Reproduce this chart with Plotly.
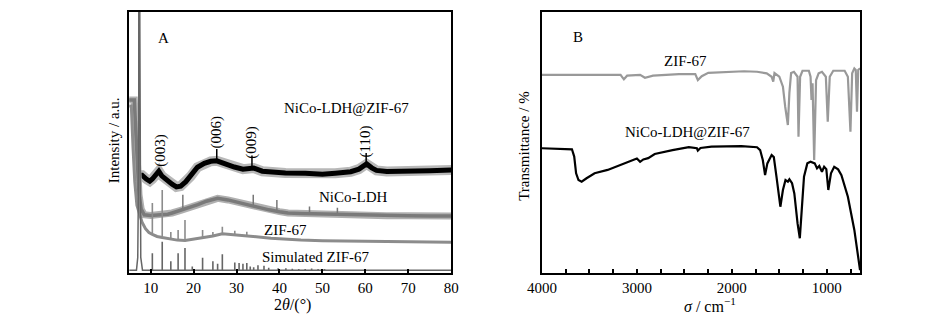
import plotly.graph_objects as go

# ================= Panel A : XRD =================
xrd_ticks = [10, 20, 30, 40, 50, 60, 70, 80]

# NiCo-LDH@ZIF-67 (noisy band centre)
hyb_x = [7.6, 8.0, 9.0, 9.8, 10.4, 11.2, 11.9, 12.6, 13.5, 15.0, 16.0, 17.0, 18.2, 19.3,
         20.9, 22.5, 24.0, 25.4, 27.7, 29.5, 31.5, 34.0, 36.0, 41.4, 46.0, 50.0, 53.0,
         56.6, 58.5, 60.3, 61.5, 62.6, 65.0, 69.5, 75.0, 80.0]
hyb_y = [37.5, 37.5, 36.0, 35.2, 36.0, 37.5, 39.0, 37.2, 35.8, 34.0, 33.0, 33.3, 35.0, 37.0,
         40.5, 42.0, 42.8, 43.0, 41.6, 40.6, 39.8, 40.2, 39.0, 38.3, 38.2, 37.8, 38.2,
         38.8, 39.8, 41.8, 40.3, 39.3, 38.9, 38.9, 39.2, 39.5]
hyb_spike_x = [7.3, 25.4, 33.6, 60.2]
hyb_spike_base = [37.0, 43.0, 40.0, 41.8]
hyb_spike_top = [150.0, 47.5, 45.0, 46.0]

# NiCo-LDH
ldh_x = [5.0, 6.2, 6.5, 6.9, 7.3, 7.8, 8.5, 10.0, 12.0, 14.0, 15.0, 17.0, 19.3, 21.0, 23.0,
         25.6, 28.0, 30.0, 32.0, 35.0, 37.6, 40.0, 42.0, 45.0, 50.0, 53.0, 56.0, 60.0, 65.0,
         70.0, 75.0, 80.0]
ldh_y = [66.3, 66.3, 56.0, 40.0, 30.0, 24.5, 22.3, 22.0, 22.3, 22.5, 23.0, 24.0, 25.4, 26.2, 27.5,
         28.6, 28.0, 27.2, 26.5, 25.0, 24.2, 23.5, 23.0, 22.8, 22.6, 22.4, 22.2, 22.0, 21.9,
         21.9, 21.8, 21.8]
ldh_spike_x = [17.5, 33.9, 39.4, 47.0, 53.5]
ldh_spike_base = [24.2, 26.0, 23.6, 22.7, 22.4]
ldh_spike_top = [30.0, 30.0, 28.0, 25.5, 25.0]

# ZIF-67 (experimental)
zif_x = [5.0, 5.5, 5.9, 6.3, 6.8, 7.2, 7.5, 8.0, 8.8, 9.6, 10.4, 11.5, 12.7, 14.5, 16.2,
         18.0, 20.0, 22.0, 24.5, 26.7, 28.5, 30.0, 32.0, 34.6, 38.0, 42.0, 45.0, 50.0,
         60.0, 70.0, 80.0]
zif_y = [64.0, 64.0, 48.0, 35.0, 26.0, 24.0, 22.0, 19.5, 17.0, 15.5, 14.8, 14.0, 13.6, 13.0, 12.6,
         12.5, 13.0, 13.3, 14.2, 15.0, 14.8, 14.5, 14.2, 13.9, 13.3, 12.8, 12.6, 12.4,
         12.1, 12.0, 11.8]
zif_peak_x = [7.35, 10.4, 12.7, 14.7, 16.4, 18.0, 22.1, 24.5, 26.7, 29.6, 32.4]
zif_peak_base = [23.0, 14.8, 13.6, 13.0, 12.6, 12.5, 13.3, 14.2, 15.0, 14.7, 14.2]
zif_peak_top = [150.0, 26.8, 31.8, 15.7, 16.5, 20.3, 16.5, 15.7, 17.7, 16.2, 15.8]

# Simulated ZIF-67 (stick pattern)
sim_base = 1.1
sim_peak_x = [10.4, 12.7, 14.7, 16.4, 18.0, 19.7, 22.1, 24.5, 25.6, 26.7, 29.6, 30.6, 31.5,
              32.4, 33.2, 34.0, 35.0, 36.4, 37.5, 39.7, 41.5, 43.0, 44.5, 46.0, 47.5, 49.0, 50.5]
sim_peak_top = [7.6, 12.0, 4.5, 7.6, 9.6, 2.5, 5.8, 4.5, 3.5, 7.2, 4.0, 3.8, 3.5,
                3.8, 2.5, 2.2, 3.0, 2.8, 2.0, 1.8, 1.8, 1.6, 1.5, 1.5, 1.7, 1.5, 1.5]
sim_main_x = [5.0, 6.7, 7.0, 7.2, 7.35, 7.5, 7.7, 8.1, 80.0]
sim_main_y = [1.1, 1.1, 6.0, 40.0, 150.0, 40.0, 6.0, 1.1, 1.1]

# ================= Panel B : FTIR =================
ir_major = [4000, 3000, 2000, 1000]

ir_zif_x = [4000, 3582, 3172, 3137, 3103, 2966, 2915, 2830, 2556, 2385, 2358, 2317, 2248, 1872,
            1735, 1633, 1581, 1564, 1551, 1500, 1462, 1438, 1410, 1394, 1376, 1346, 1308, 1298,
            1281, 1256, 1189, 1171, 1161, 1150, 1133, 1113, 1086, 1051, 1010, 990, 969, 932,
            812, 778, 751, 733, 710, 695, 682, 669, 650]
ir_zif_y = [75.9, 75.9, 75.9, 74.2, 75.6, 75.9, 74.8, 75.6, 76.2, 76.2, 73.9, 75.4, 76.7, 77.3,
            77.1, 76.5, 75.2, 73.3, 76.6, 75.2, 71.4, 63.7, 56.7, 69.0, 76.6, 77.1, 75.2, 52.2,
            75.2, 77.5, 77.5, 75.2, 66.3, 72.7, 43.3, 73.9, 76.5, 77.1, 75.2, 58.0, 75.2, 77.5,
            77.5, 75.2, 54.1, 76.5, 78.4, 77.8, 61.8, 77.8, 78.4]

ir_hyb_x = [4000, 3684, 3660, 3640, 3615, 3582, 3530, 3445, 3308, 3137, 3000, 2966, 2932, 2881,
            2812, 2625, 2453, 2368, 2358, 2330, 2214, 1900, 1735, 1702, 1674, 1650, 1626, 1581,
            1558, 1530, 1503, 1489, 1462, 1435, 1410, 1394, 1366, 1342, 1308, 1284, 1264, 1240,
            1205, 1171, 1127, 1103, 1079, 1051, 1028, 1005, 984, 956, 922, 881, 846, 778, 710,
            675, 650]
ir_hyb_y = [47.8, 47.4, 44.6, 38.2, 35.6, 35.0, 36.3, 38.2, 39.5, 42.0, 43.9, 42.6, 43.5, 44.0,
            45.6, 47.1, 48.2, 47.8, 46.9, 47.9, 48.4, 48.6, 48.2, 47.1, 43.3, 37.5, 42.0, 45.2,
            44.4, 36.9, 28.0, 25.4, 31.8, 35.6, 35.0, 35.9, 34.4, 30.5, 19.0, 13.3, 24.1, 36.9,
            42.0, 42.6, 42.0, 40.1, 41.0, 38.8, 40.7, 39.8, 31.8, 38.2, 40.7, 39.7, 37.5, 29.2, 16.5,
            7.5, 1.1]


def sticks(xs, bases, tops):
    sx, sy = [], []
    for x, b, t in zip(xs, bases, tops):
        sx += [x, x, None]
        sy += [b, t, None]
    return sx, sy


fig = go.Figure()

# --- panel A traces ---
fig.add_trace(go.Scatter(x=hyb_x, y=hyb_y, mode="lines", xaxis="x", yaxis="y",
                         line=dict(color="#b8b8b8", width=10), hoverinfo="skip"))
sx, sy = sticks(hyb_spike_x, hyb_spike_base, hyb_spike_top)
fig.add_trace(go.Scatter(x=sx, y=sy, mode="lines", xaxis="x", yaxis="y",
                         line=dict(color="#000000", width=1.5)))
fig.add_trace(go.Scatter(x=hyb_x, y=hyb_y, mode="lines", xaxis="x", yaxis="y",
                         line=dict(color="#000000", width=5)))

fig.add_trace(go.Scatter(x=ldh_x, y=ldh_y, mode="lines", xaxis="x", yaxis="y",
                         line=dict(color="#b0b0b0", width=7)))
sx, sy = sticks(ldh_spike_x, ldh_spike_base, ldh_spike_top)
fig.add_trace(go.Scatter(x=sx, y=sy, mode="lines", xaxis="x", yaxis="y",
                         line=dict(color="#777777", width=1.5)))
fig.add_trace(go.Scatter(x=ldh_x, y=ldh_y, mode="lines", xaxis="x", yaxis="y",
                         line=dict(color="#7a7a7a", width=3.5)))

fig.add_trace(go.Scatter(x=zif_x, y=zif_y, mode="lines", xaxis="x", yaxis="y",
                         line=dict(color="#8c8c8c", width=3)))
sx, sy = sticks(zif_peak_x, zif_peak_base, zif_peak_top)
fig.add_trace(go.Scatter(x=sx, y=sy, mode="lines", xaxis="x", yaxis="y",
                         line=dict(color="#8c8c8c", width=1.6)))

fig.add_trace(go.Scatter(x=sim_main_x, y=sim_main_y, mode="lines", xaxis="x", yaxis="y",
                         line=dict(color="#666666", width=1.5)))
sx, sy = sticks(sim_peak_x, [sim_base] * len(sim_peak_x), sim_peak_top)
fig.add_trace(go.Scatter(x=sx, y=sy, mode="lines", xaxis="x", yaxis="y",
                         line=dict(color="#666666", width=1.6)))

# --- panel B traces ---
fig.add_trace(go.Scatter(x=ir_zif_x, y=ir_zif_y, mode="lines", xaxis="x2", yaxis="y2",
                         line=dict(color="#999999", width=2.2)))
fig.add_trace(go.Scatter(x=ir_hyb_x, y=ir_hyb_y, mode="lines", xaxis="x2", yaxis="y2",
                         line=dict(color="#000000", width=2.2)))

W, H = 950, 327
serif = "Liberation Serif"
ydom = [1 - 273 / H, 1 - 12 / H]

frame = dict(showline=True, mirror=True, linecolor="black", linewidth=2,
             showgrid=False, zeroline=False)
xtick = dict(ticks="inside", ticklen=4, tickwidth=1.5, tickcolor="black",
             tickfont=dict(family=serif, size=15, color="black"))

fig.update_layout(
    width=W, height=H, margin=dict(l=0, r=0, t=0, b=0, pad=0), autosize=False,
    paper_bgcolor="white", plot_bgcolor="white", showlegend=False,
    font=dict(family=serif, color="black"),
    xaxis=dict(domain=[117 / W, 447 / W], range=[5, 80], tickvals=xrd_ticks,
               anchor="y", **frame, **xtick),
    yaxis=dict(domain=ydom, range=[0, 100], showticklabels=False, ticks="",
               anchor="x", **frame),
    xaxis2=dict(domain=[540 / W, 866 / W], range=[4000, 650], tickvals=ir_major,
                minor=dict(ticks="inside", dtick=250, tick0=0, ticklen=4, tickwidth=1.5,
                           tickcolor="black"),
                anchor="y2", **frame, **xtick),
    yaxis2=dict(domain=ydom, range=[0, 100], showticklabels=False, ticks="",
                anchor="x2", **frame),
)

ann = []
def lab(text, x, y, xref, yref, size=15, angle=0):
    ann.append(dict(text=text, x=x, y=y, xref=xref, yref=yref, showarrow=False,
                    xanchor="center", yanchor="middle", textangle=angle,
                    font=dict(family=serif, size=size, color="black")))

# panel A labels
lab("A", 13.1, 90.1, "x", "y")
lab("NiCo-LDH@ZIF-67", 55.7, 63.2, "x", "y")
lab("(003)", 12.1, 47.1, "x", "y", angle=-90)
lab("(006)", 25.4, 54.1, "x", "y", angle=-90)
lab("(009)", 33.6, 50.3, "x", "y", angle=-90)
lab("(110)", 60.1, 50.3, "x", "y", angle=-90)
lab("NiCo-LDH", 57.2, 29.2, "x", "y")
lab("ZIF-67", 41.3, 16.5, "x", "y")
lab("Simulated ZIF-67", 48.5, 6.2, "x", "y")
# panel B labels
lab("B", 3615, 90.5, "x2", "y2")
lab("ZIF-67", 2487, 81.4, "x2", "y2")
lab("NiCo-LDH@ZIF-67", 2471, 54.1, "x2", "y2")
# axis titles
lab("Intensity / a.u.", 101.7 / W, 1 - 140 / H, "paper", "paper", angle=-90)
lab("Transmittance / %", 521.7 / W, 1 - 146.7 / H, "paper", "paper", angle=-90)
lab("2<i>θ</i>/(°)", 284 / W, 1 - 305 / H, "paper", "paper", size=16)
lab("<i>σ</i> / cm<sup>−1</sup>", 712 / W, 1 - 305 / H, "paper", "paper", size=16)

fig.update_layout(annotations=ann)
fig.write_html("out.html")
